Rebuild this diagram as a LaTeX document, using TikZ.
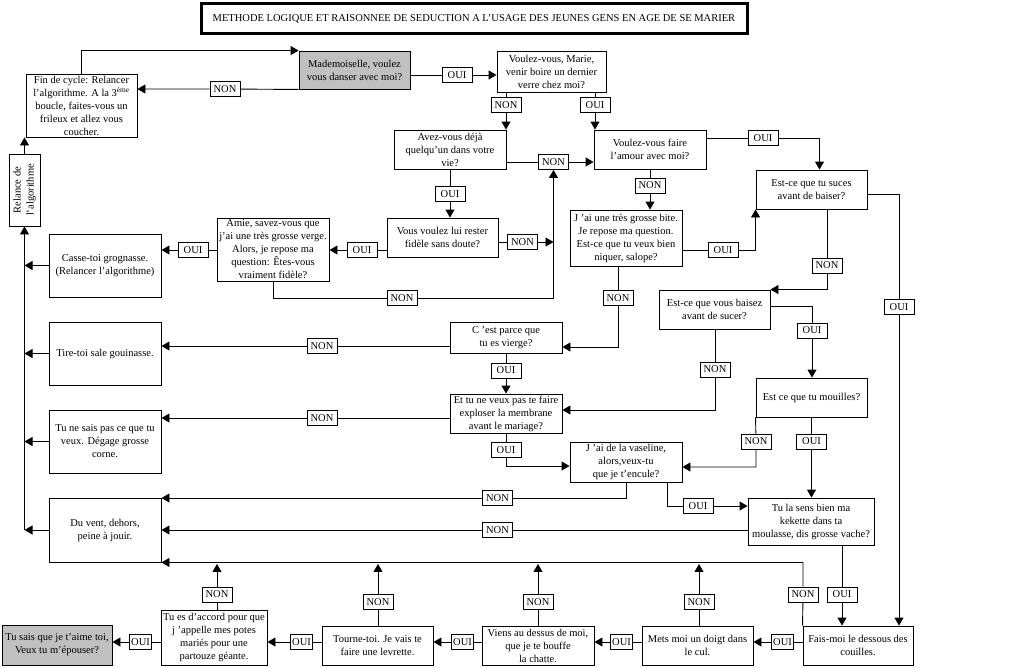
\documentclass[tikz,border=0pt]{standalone}
\usepackage{fontspec}
\setmainfont{Liberation Serif}
\usepackage{xcolor}
\usetikzlibrary{arrows.meta}
\definecolor{boxgray}{RGB}{192,192,192}

\begin{document}
\begin{tikzpicture}[x=1pt, y=-1pt, line width=0.9pt,
  box/.style={draw, align=center, inner xsep=1pt, inner ysep=0pt, font=\fontsize{10.5}{13}\selectfont},
  lab/.style={draw, fill=white, minimum width=30, minimum height=15, inner xsep=3pt, inner ysep=0pt, font=\fontsize{10.5}{13}\selectfont},
  labs/.style={lab, minimum width=0, inner xsep=1.5pt},
  arr/.style={-{Triangle[length=8pt,width=9pt]}}]
\useasboundingbox (0,0) rectangle (1024,667);

\node[box, line width=3pt, minimum width=546, minimum height=30] (title) at (474,18.5) {METHODE LOGIQUE ET RAISONNEE DE SEDUCTION A L’USAGE DES JEUNES GENS EN AGE DE SE MARIER};

% boxes
\node[box, fill=boxgray, minimum width=111, minimum height=38] (madem) at (354.5,70) {Mademoiselle, voulez\\ vous danser avec moi?};
\node[box, minimum width=109, minimum height=41] (marie) at (551.5,71.5) {Voulez-vous, Marie,\\ venir boire un dernier\\ verre chez moi?};
\node[box, minimum width=111, minimum height=63] (fin) at (81.5,105.5) {Fin de cycle: Relancer\\ l’algorithme. A la 3\textsuperscript{ème}\\ boucle, faites-vous un\\ frileux et allez vous\\ coucher.};
\node[box, rotate=90, minimum width=72, minimum height=31] (relance) at (24.5,190) {Relance de\\ l’algorithme};
\node[box, minimum width=112, minimum height=39] (avez) at (450,149.5) {Avez-vous déjà\\ quelqu’un dans votre\\ vie?};
\node[box, minimum width=112, minimum height=39] (faire) at (650,149.5) {Voulez-vous faire\\ l’amour avec moi?};
\node[box, minimum width=111, minimum height=39] (suces) at (811.5,189.5) {Est-ce que tu suces\\ avant de baiser?};
\node[box, minimum width=111, minimum height=39] (fidele) at (442.5,237.5) {Vous voulez lui rester\\ fidèle sans doute?};
\node[box, minimum width=112, minimum height=63] (amie) at (273,249.5) {Amie, savez-vous que\\ j’ai une très grosse verge.\\ Alors, je repose ma\\ question: Êtes-vous\\ vraiment fidèle?};
\node[box, minimum width=112, minimum height=63] (casse) at (105,265.5) {Casse-toi grognasse.\\ (Relancer l’algorithme)};
\node[box, minimum width=112, minimum height=56] (bite) at (626,238) {J ’ai une très grosse bite.\\ Je repose ma question.\\ Est-ce que tu veux bien\\ niquer, salope?};
\node[box, minimum width=111, minimum height=39] (baisez) at (714.5,309.5) {Est-ce que vous baisez\\ avant de sucer?};
\node[box, minimum width=112, minimum height=31] (cest) at (506,337.5) {C ’est parce que\\ tu es vierge?};
\node[box, minimum width=112, minimum height=63] (tire) at (105,353.5) {Tire-toi sale gouinasse.};
\node[box, minimum width=111, minimum height=39] (mouil) at (811.5,397.5) {Est ce que tu mouilles?};
\node[box, minimum width=112, minimum height=39] (memb) at (506,413.5) {Et tu ne veux pas te faire\\ exploser la membrane\\ avant le mariage?};
\node[box, minimum width=112, minimum height=63] (sais) at (105,441.5) {Tu ne sais pas ce que tu\\ veux. Dégage grosse\\ corne.};
\node[box, minimum width=112, minimum height=40] (vase) at (626,462) {J ’ai de la vaseline,\\ alors,veux-tu\\ que je t’encule?};
\node[box, minimum width=126, minimum height=47] (sens) at (811,521.5) {Tu la sens bien ma\\ kekette dans ta\\ moulasse, dis grosse vache?};
\node[box, minimum width=112, minimum height=64] (vent) at (105,530) {Du vent, dehors,\\ peine à jouir.};
\node[box, fill=boxgray, minimum width=110, minimum height=40] (epouse) at (57,645) {Tu sais que je t’aime toi,\\ Veux tu m’épouser?};
\node[box, minimum width=106, minimum height=55] (accord) at (214,637.5) {Tu es d’accord pour que\\ j ’appelle mes potes\\ mariés pour une\\ partouze géante.};
\node[box, minimum width=111, minimum height=39] (tourne) at (377.5,645.5) {Tourne-toi. Je vais te\\ faire une levrette.};
\node[box, minimum width=112, minimum height=39] (viens) at (538,645.5) {Viens au dessus de moi,\\ que je te bouffe\\ la chatte.};
\node[box, minimum width=111, minimum height=39] (doigt) at (697.5,645.5) {Mets moi un doigt dans\\ le cul.};
\node[box, minimum width=110, minimum height=39] (couil) at (858,645.5) {Fais-moi le dessous des\\ couilles.};

% labels
\node[lab] (l1) at (457,75) {OUI};
\node[lab] (l2) at (225,89) {NON};
\node[lab] (l3) at (506,105) {NON};
\node[lab] (l4) at (595,105) {OUI};
\node[lab] (l5) at (553.5,162) {NON};
\node[lab] (l6) at (450,194) {OUI};
\node[lab] (l7) at (522.5,242) {NON};
\node[lab] (l8) at (362,250) {OUI};
\node[lab] (l9) at (193,250) {OUI};
\node[lab] (l10) at (402,298) {NON};
\node[lab] (l11) at (763,138) {OUI};
\node[lab] (l12) at (650,185.5) {NON};
\node[lab] (l13) at (723,250) {OUI};
\node[lab] (l14) at (618,298) {NON};
\node[lab] (l15) at (827,265.5) {NON};
\node[lab] (l16) at (899,307) {OUI};
\node[lab] (l17) at (812,330.5) {OUI};
\node[lab] (l18) at (715,369.5) {NON};
\node[lab] (l19) at (322,346) {NON};
\node[lab] (l20) at (506,370.5) {OUI};
\node[lab] (l21) at (322,418) {NON};
\node[lab] (l22) at (506,450) {OUI};
\node[lab] (l23) at (756,441.5) {NON};
\node[lab] (l24) at (811.5,441.5) {OUI};
\node[lab] (l25) at (698,506) {OUI};
\node[lab] (l26) at (497.5,498) {NON};
\node[lab] (l27) at (497.5,530) {NON};
\node[lab] (l28) at (842,594.5) {OUI};
\node[lab] (l29) at (803,594.5) {NON};
\node[labs] (l30) at (782.5,642) {OUI};
\node[labs] (l31) at (621.5,642) {OUI};
\node[labs] (l32) at (462.5,642) {OUI};
\node[labs] (l33) at (301.5,642) {OUI};
\node[labs] (l34) at (140.5,642) {OUI};
\node[lab] (l35) at (699,602) {NON};
\node[lab] (l36) at (538,602) {NON};
\node[lab] (l37) at (378,602) {NON};
\node[lab] (l38) at (217,594.5) {NON};

% top loop
\draw[arr] (fin.north) |- (madem.north west);
\draw[arr] (madem.south west) -- (l2) -- (l2 -| fin.east);
\draw[arr] (madem.east |- l1) -- (l1) -- (l1 -| marie.west);
\draw[arr] (marie.south -| l3) -- (l3) -- (l3 |- avez.north);
\draw[arr] (marie.south -| l4) -- (l4) -- (l4 |- faire.north);
\draw[arr] (avez.east |- l5) -- (l5) -- (l5 -| faire.west);
\draw[arr] (avez.south -| l6) -- (l6) -- (l6 |- fidele.north);
\draw[arr] (fidele.east |- l7) -- (l7) -- (l7 -| l5);
\draw[arr] (fidele.west |- l8) -- (l8) -- (l8 -| amie.east);
\draw[arr] (amie.west |- l9) -- (l9) -- (l9 -| casse.east);
\draw[arr] (amie.south) |- (l10) -- (l10 -| l5) -- (l5);
% right branch
\draw[arr] (faire.east |- l11) -- (l11) -| ([xshift=8]suces.north);
\draw[arr] (faire.south) -- (l12) -- (l12 |- bite.north);
\draw[arr] (bite.east |- l13) -- (l13) -| (suces.south west);
\draw[arr] (bite.south -| l14) -- (l14) |- ([yshift=-9.5]cest.east);
\draw[arr] (suces.south -| l15) -- (l15) |- (baisez.north east);
\draw[arr] ([yshift=-4.5]suces.east) -| (l16) -- (l16 |- couil.north);
\draw[arr] ([yshift=3.5]baisez.east) -| (l17) -- (l17 |- mouil.north);
\draw[arr] (baisez.south -| l18) -- (l18) |- ([yshift=3.5]memb.east);
\draw[arr] (cest.west |- l19) -- (l19) -- (l19 -| tire.east);
\draw[arr] (cest.south) -- (l20) -- (l20 |- memb.north);
\draw[arr] (memb.west |- l21) -- (l21) -- (l21 -| sais.east);
\draw[arr] (memb.south) -- (l22) |- ([yshift=-4]vase.west);
\draw[arr] (mouil.south west) -- (l23) |- ([yshift=-5]vase.east);
\draw[arr] (mouil.south -| l24) -- (l24) -- (l24 |- sens.north);
\draw[arr] ([xshift=41]vase.south) |- (l25) -- (l25 -| sens.west);
\draw[arr] (vase.south) |- (l26) -- (l26 -| vent.east);
\draw[arr] (sens.west |- l27) -- (l27) -- (l27 -| vent.east);
\draw[arr] (sens.south -| l28) -- (l28) -- (l28 |- couil.north);
\draw[arr] (couil.north west) -- (l29) |- (vent.south east);
% bottom row
\draw[arr] (couil.west |- l30) -- (l30) -- (l30 -| doigt.east);
\draw[arr] (doigt.west |- l31) -- (l31) -- (l31 -| viens.east);
\draw[arr] (viens.west |- l32) -- (l32) -- (l32 -| tourne.east);
\draw[arr] (tourne.west |- l33) -- (l33) -- (l33 -| accord.east);
\draw[arr] (accord.west |- l34) -- (l34) -- (l34 -| epouse.east);
\draw[arr, shorten >=1.5pt] (doigt.north -| l35) -- (l35) -- (l35 |- vent.south);
\draw[arr, shorten >=1.5pt] (viens.north -| l36) -- (l36) -- (l36 |- vent.south);
\draw[arr, shorten >=1.5pt] (tourne.north -| l37) -- (l37) -- (l37 |- vent.south);
\draw[arr, shorten >=1.5pt] (accord.north -| l38) -- (l38) -- (l38 |- vent.south);
% back to the start
\draw[arr] (casse.west) -- (casse.west -| relance);
\draw[arr] (tire.west) -- (tire.west -| relance);
\draw[arr] (sais.west) -- (sais.west -| relance);
\draw[arr] (vent.west) -- (vent.west -| relance);
\draw[arr] (vent.west -| relance) -- (relance);
\draw[arr] (relance) -- (relance |- fin.south);
\end{tikzpicture}
\end{document}
